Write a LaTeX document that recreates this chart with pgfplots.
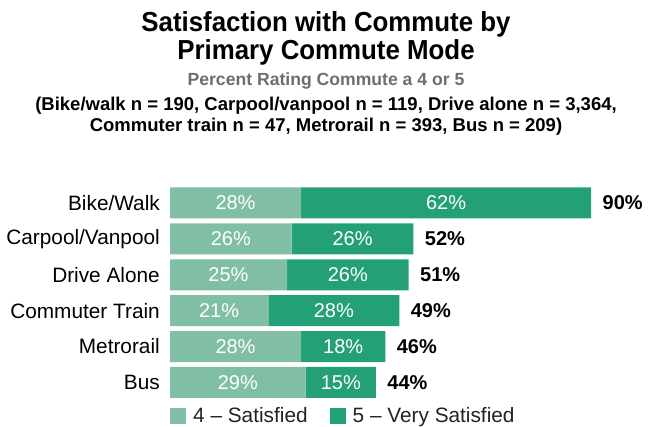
\documentclass[border=0pt]{standalone}
\usepackage{fontspec}
\setmainfont{Liberation Sans}
\newfontfamily\titlefont[FakeStretch=0.94]{Liberation Sans}
\usepackage{pgfplots}
\pgfplotsset{compat=1.18}
\usepackage{pgfplotstable}
\definecolor{lightg}{HTML}{80BFA3}
\definecolor{darkg}{HTML}{23A078}
\definecolor{subgray}{HTML}{6E6E6E}
\definecolor{legtext}{HTML}{222222}

\pgfplotstableread{
y v4 v5 tot m4 m5
0 28 62 90 14 59
1 26 26 52 13 39
2 25 26 51 12.5 38
3 21 28 49 10.5 35
4 28 18 46 14 37
5 29 15 44 14.5 36.5
}\data

\pgfplotsset{
  commonaxis/.style={
    scale only axis,
    width=468pt, height=215.4pt,
    xmin=0, xmax=100,
    ymin=-0.5, ymax=5.5,
    y dir=reverse,
    at={(170pt,-185pt)}, anchor=north west,
    /pgf/number format/assume math mode=true,
  }
}

\begin{document}
\begin{tikzpicture}[x=1pt,y=1pt]
\useasboundingbox (0,0) rectangle (652,-427);
\node[font=\titlefont\bfseries\fontsize{27.5}{30}\selectfont, anchor=base] at (326,-31.5) {Satisfaction with Commute by};
\node[font=\titlefont\bfseries\fontsize{27.5}{30}\selectfont, anchor=base] at (326,-60) {Primary Commute Mode};
\node[font=\bfseries\fontsize{17.6}{19}\selectfont, text=subgray, anchor=base] at (326,-86) {Percent Rating Commute a 4 or 5};
\node[font=\bfseries\fontsize{18.5}{20}\selectfont, anchor=base] at (326,-111) {(Bike/walk n = 190, Carpool/vanpool n = 119, Drive alone n = 3,364,};
\node[font=\bfseries\fontsize{18.5}{20}\selectfont, anchor=base] at (326,-131.5) {Commuter train n = 47, Metrorail n = 393, Bus n = 209)};

\begin{axis}[commonaxis,
  xbar stacked, bar width=31pt,
  axis x line=none,
  y axis line style={draw=none},
  ytick={0,1,2,3,4,5},
  yticklabels={Bike/Walk,Carpool/Vanpool,Drive Alone,Commuter Train,Metrorail,Bus},
  major tick length=0pt,
  yticklabel style={font=\fontsize{20.8}{22}\selectfont, inner sep=0pt, xshift=-10pt},
  legend style={at={(0,0)}, anchor=north west, yshift=-5pt, draw=none, fill=none,
    legend columns=2, font=\fontsize{20.8}{22}\selectfont, text=legtext, inner sep=0pt,
    /tikz/every odd column/.append style={column sep=5pt},
    /tikz/every even column/.append style={column sep=20pt}},
  legend cell align=left,
]
\addplot[fill=lightg, draw=none, legend image code/.code={\fill[lightg] (0pt,-8pt) rectangle (16pt,8pt);}] table[x=v4, y=y] {\data};
\addlegendentry{4 -- Satisfied}
\addplot[fill=darkg, draw=none, legend image code/.code={\fill[darkg] (0pt,-8pt) rectangle (16pt,8pt);}] table[x=v5, y=y] {\data};
\addlegendentry{5 -- Very Satisfied}
\end{axis}

\begin{axis}[commonaxis, hide axis]
\addplot[only marks, mark=*, mark size=0pt, draw=none,
  nodes near coords={\pgfmathprintnumber{\pgfplotspointmeta}\%}, point meta=explicit,
  every node near coord/.append style={anchor=center, text=white, font=\fontsize{20}{22}\selectfont}]
  table[x=m4, y=y, meta=v4] {\data};
\addplot[only marks, mark=*, mark size=0pt, draw=none,
  nodes near coords={\pgfmathprintnumber{\pgfplotspointmeta}\%}, point meta=explicit,
  every node near coord/.append style={anchor=center, text=white, font=\fontsize{20}{22}\selectfont}]
  table[x=m5, y=y, meta=v5] {\data};
\addplot[only marks, mark=*, mark size=0pt, draw=none,
  nodes near coords={\pgfmathprintnumber{\pgfplotspointmeta}\%}, point meta=explicit,
  every node near coord/.append style={anchor=west, xshift=8pt, text=black, font=\bfseries\fontsize{20}{22}\selectfont}]
  table[x=tot, y=y, meta=tot] {\data};
\end{axis}
\end{tikzpicture}
\end{document}
